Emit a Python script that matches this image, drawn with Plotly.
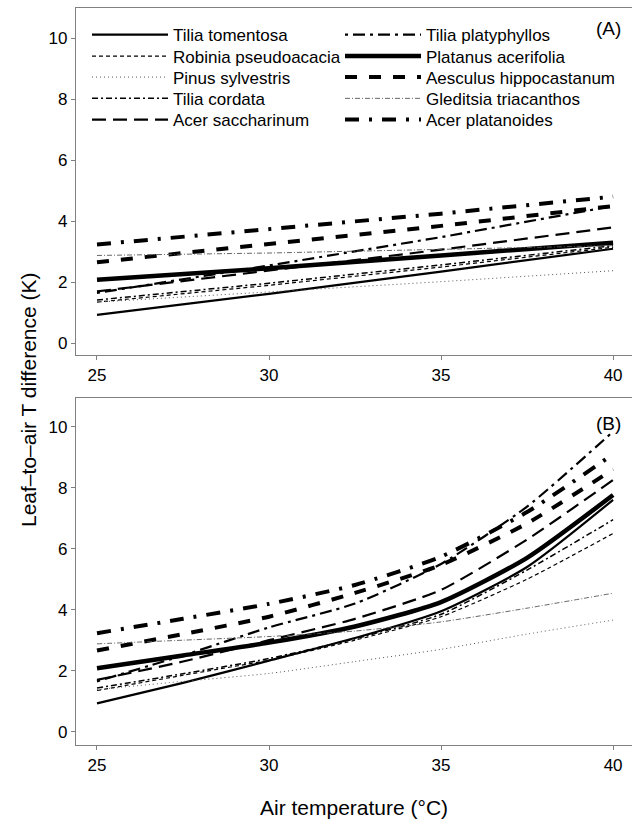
import plotly.graph_objects as go

# ---------------- data ----------------
species = [
    "Tilia tomentosa", "Robinia pseudoacacia", "Pinus sylvestris", "Tilia cordata",
    "Acer saccharinum", "Tilia platyphyllos", "Platanus acerifolia",
    "Aesculus hippocastanum", "Gleditsia triacanthos", "Acer platanoides",
]

temp_a = [25, 30, 35, 40]
panel_a = {
    "Tilia tomentosa":        [0.93, 1.62, 2.35, 3.10],
    "Robinia pseudoacacia":   [1.35, 1.90, 2.50, 3.15],
    "Pinus sylvestris":       [1.35, 1.68, 2.02, 2.38],
    "Tilia cordata":          [1.42, 1.97, 2.57, 3.20],
    "Acer saccharinum":       [1.70, 2.38, 3.07, 3.80],
    "Tilia platyphyllos":     [1.65, 2.55, 3.48, 4.50],
    "Platanus acerifolia":    [2.08, 2.46, 2.88, 3.30],
    "Aesculus hippocastanum": [2.66, 3.25, 3.85, 4.50],
    "Gleditsia triacanthos":  [2.88, 2.96, 3.08, 3.20],
    "Acer platanoides":       [3.24, 3.74, 4.25, 4.81],
}

temp_b = [25, 27.5, 30, 32.5, 35, 37.5, 40]
panel_b = {
    "Tilia tomentosa":        [0.93, 1.60, 2.33, 3.07, 3.95, 5.40, 7.60],
    "Robinia pseudoacacia":   [1.35, 1.85, 2.35, 3.00, 3.77, 5.00, 6.50],
    "Pinus sylvestris":       [1.38, 1.65, 1.91, 2.30, 2.70, 3.20, 3.66],
    "Tilia cordata":          [1.43, 1.90, 2.40, 3.05, 3.85, 5.30, 6.95],
    "Acer saccharinum":       [1.70, 2.30, 3.00, 3.70, 4.65, 6.30, 8.25],
    "Tilia platyphyllos":     [1.65, 2.50, 3.42, 4.20, 5.50, 7.38, 9.84],
    "Platanus acerifolia":    [2.08, 2.50, 2.92, 3.45, 4.25, 5.70, 7.76],
    "Aesculus hippocastanum": [2.66, 3.20, 3.77, 4.55, 5.47, 6.83, 8.60],
    "Gleditsia triacanthos":  [2.88, 3.00, 3.12, 3.30, 3.60, 4.05, 4.54],
    "Acer platanoides":       [3.23, 3.70, 4.19, 4.81, 5.74, 7.20, 9.10],
}

x_ticks = [25, 30, 35, 40]
y_ticks = [0, 2, 4, 6, 8, 10]

# ---------------- styles ----------------
styles = {
    "Tilia tomentosa":        dict(color="black", width=2.2, dash="solid"),
    "Robinia pseudoacacia":   dict(color="black", width=1.2, dash="4px,3px"),
    "Pinus sylvestris":       dict(color="#555555", width=1.0, dash="1px,3px"),
    "Tilia cordata":          dict(color="black", width=1.5, dash="6px,3px,2px,3px"),
    "Acer saccharinum":       dict(color="black", width=2.2, dash="14px,7px"),
    "Tilia platyphyllos":     dict(color="black", width=2.2, dash="3px,5px,12px,5px"),
    "Platanus acerifolia":    dict(color="black", width=4.5, dash="solid"),
    "Aesculus hippocastanum": dict(color="black", width=4.0, dash="12px,12px"),
    "Gleditsia triacanthos":  dict(color="#555555", width=0.9, dash="5px,2px,1px,2px"),
    "Acer platanoides":       dict(color="black", width=4.0, dash="14px,10px,3px,10px"),
}

FONT = "Liberation Sans, Arial, Helvetica, sans-serif"

W, H = 632, 820
L, R, T, B = 76, 0, 8, 75
PW, PH = W - L - R, H - T - B


def px_x(px):
    return (px - L) / PW


def px_y(py):
    return (H - B - py) / PH


# legend layout: two columns of five rows (one legend per entry)
col_x = [px_x(87), px_x(340)]
row_y = [px_y(35), px_y(56.5), px_y(77.5), px_y(98.8), px_y(120)]

fig = go.Figure()
legend_layout = {}
for i, name in enumerate(species):
    key = "legend" if i == 0 else f"legend{i + 1}"
    col, row = divmod(i, 5)
    legend_layout[key] = dict(
        x=col_x[col], y=row_y[row], xanchor="left", yanchor="middle",
        xref="paper", yref="paper",
        bgcolor="rgba(0,0,0,0)", borderwidth=0,
        font=dict(family=FONT, size=17, color="black"),
        itemwidth=76,
    )
    fig.add_trace(go.Scatter(
        x=temp_a, y=panel_a[name], mode="lines", name=name,
        line=styles[name], xaxis="x", yaxis="y", showlegend=True, legend=key,
    ))
for name in species:
    fig.add_trace(go.Scatter(
        x=temp_b, y=panel_b[name], mode="lines", name=name,
        line=dict(**styles[name], shape="spline", smoothing=0.6),
        xaxis="x2", yaxis="y2", showlegend=False,
    ))

axis_col = "#808080"
common_x = dict(
    range=[24.39, 40.55], tickvals=x_ticks, ticks="outside", ticklen=4,
    tickcolor=axis_col, showline=True, linecolor=axis_col, linewidth=1.2,
    mirror=True, showgrid=False, zeroline=False,
    tickfont=dict(family=FONT, size=17, color="black"),
)
common_y = dict(
    tickvals=y_ticks, ticks="outside", ticklen=4, tickcolor=axis_col,
    showline=True, linecolor=axis_col, linewidth=1.2, mirror=False,
    showgrid=False, zeroline=False,
    tickfont=dict(family=FONT, size=17, color="black"),
)

fig.update_layout(
    width=W, height=H,
    margin=dict(l=L, r=R, t=T, b=B, autoexpand=False),
    paper_bgcolor="white", plot_bgcolor="white",
    font=dict(family=FONT, color="black"),
    xaxis=dict(**common_x, anchor="y", domain=[0, 1]),
    yaxis=dict(**common_y, anchor="x", domain=[390 / 737, 1], range=[-0.384, 10.994]),
    xaxis2=dict(**common_x, anchor="y2", domain=[0, 1]),
    yaxis2=dict(**common_y, anchor="x2", domain=[0, 347 / 737], range=[-0.436, 10.94]),
    annotations=[
        dict(text="(A)", xref="paper", yref="paper", x=px_x(623), y=px_y(29),
             xanchor="right", yanchor="middle", showarrow=False,
             font=dict(family=FONT, size=19, color="black")),
        dict(text="(B)", xref="paper", yref="paper", x=px_x(623), y=px_y(423.5),
             xanchor="right", yanchor="middle", showarrow=False,
             font=dict(family=FONT, size=19, color="black")),
        dict(text="Air temperature (°C)", xref="paper", yref="paper",
             x=0.5, y=px_y(807), xanchor="center", yanchor="middle", showarrow=False,
             font=dict(family=FONT, size=21, color="black")),
        dict(text="Leaf–to–air T difference (K)", xref="paper", yref="paper",
             x=px_x(28), y=px_y(400), xanchor="center", yanchor="middle", textangle=-90,
             showarrow=False, font=dict(family=FONT, size=21, color="black")),
    ],
)
fig.update_layout(**legend_layout)

# remove the browser's default 8px page margin so the figure sits at (0, 0)
fig.write_html(
    "out.html",
    config={"displayModeBar": False},
    post_script="document.body.style.margin='0';document.body.style.overflow='hidden';",
)
